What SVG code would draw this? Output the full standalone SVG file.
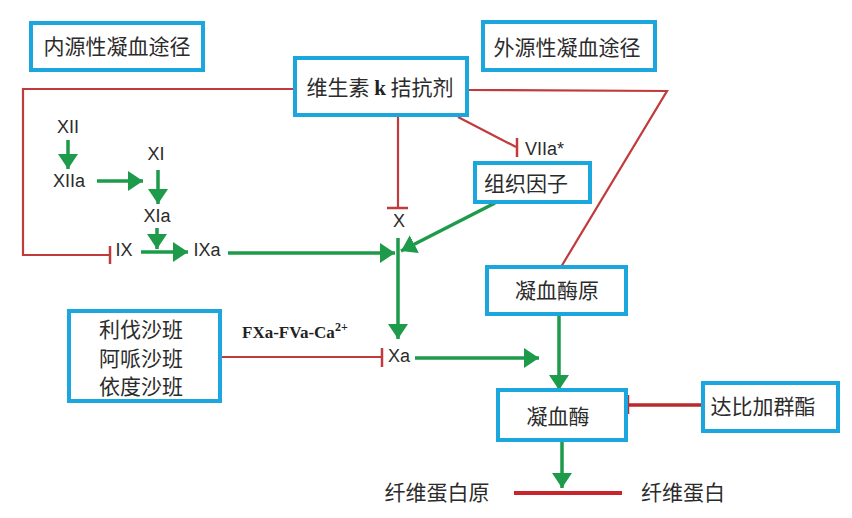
<svg xmlns="http://www.w3.org/2000/svg" width="852" height="518" viewBox="0 0 852 518">
<style>
.box{fill:#fff;stroke:#1ba6de;stroke-width:4}
.cjk{font-family:"Noto Sans CJK SC","Noto Sans",sans-serif;font-size:21px;fill:#2b2b2b;text-anchor:middle}
.lat{font-family:"Liberation Sans",Arial,sans-serif;font-size:18px;fill:#2b2b2b}
.g{stroke:#1d9a4a;stroke-width:3.5;fill:none;marker-end:url(#ah)}
.r{stroke:#c13a3c;stroke-width:2.2;fill:none}
.rt{stroke:#c13a3c;stroke-width:2.5;fill:none}
</style>
<defs>
<marker id="ah" viewBox="0 0 15 20" refX="15" refY="10" markerWidth="15" markerHeight="20" markerUnits="userSpaceOnUse" orient="auto">
<path d="M0,0 L15,10 L0,20 Z" fill="#1d9a4a"/>
</marker>
</defs>
<rect width="852" height="518" fill="#fff"/>

<g id="connectors">
<!-- red inhibitor lines -->
<polyline class="r" points="295,89 23,89 23,255 110,255"/>
<line class="rt" x1="110" y1="246" x2="110" y2="264"/>
<polyline class="r" points="467,90 667,91 561,267"/>
<line class="r" x1="398" y1="115" x2="398" y2="208"/>
<line class="rt" x1="387" y1="208" x2="408" y2="208"/>
<line class="r" x1="458" y1="117" x2="516" y2="147"/>
<line class="rt" x1="517" y1="138" x2="517" y2="157"/>
<line class="r" x1="220" y1="357" x2="381" y2="357"/>
<line class="rt" x1="382" y1="348" x2="382" y2="367"/>
<line stroke="#b82a2e" stroke-width="3.5" x1="703" y1="405" x2="629" y2="405"/>
<line stroke="#b82a2e" stroke-width="2.5" x1="628" y1="395" x2="628" y2="414"/>
<line stroke="#c8242b" stroke-width="4" x1="514" y1="493" x2="622" y2="493"/>
<!-- green arrows -->
<line class="g" x1="68" y1="140" x2="68" y2="169"/>
<line class="g" x1="97" y1="181" x2="143" y2="181"/>
<line class="g" x1="158" y1="170" x2="158" y2="204"/>
<line class="g" x1="157" y1="228" x2="157" y2="249"/>
<line class="g" x1="141" y1="252" x2="188" y2="252"/>
<line class="g" x1="228" y1="253" x2="395" y2="253"/>
<line class="g" x1="398" y1="238" x2="398" y2="339"/>
<line class="g" x1="495" y1="203" x2="401" y2="251"/>
<line class="g" x1="415" y1="358" x2="539" y2="358"/>
<line class="g" x1="559" y1="314" x2="559" y2="390"/>
<line class="g" x1="562" y1="440" x2="562" y2="488"/>
</g>

<g id="intrinsic">
<rect class="box" x="31" y="23" width="172" height="47"/>
<text class="cjk" x="117" y="54">内源性凝血途径</text>
</g>
<g id="extrinsic">
<rect class="box" x="483" y="22" width="172" height="48"/>
<text class="cjk" x="567" y="55">外源性凝血途径</text>
</g>
<g id="vitk">
<rect class="box" x="295" y="58" width="172" height="57"/>
<text class="cjk" x="380" y="95">维生素 <tspan font-family="'Liberation Serif',serif" font-weight="bold" fill="#222">k</tspan> 拮抗剂</text>
</g>
<g id="tissue-factor">
<rect class="box" x="475" y="163" width="115" height="39"/>
<text class="cjk" x="526" y="191">组织因子</text>
</g>
<g id="prothrombin">
<rect class="box" x="487" y="267" width="139" height="47"/>
<text class="cjk" x="557" y="298">凝血酶原</text>
</g>
<g id="thrombin">
<rect class="box" x="498" y="390" width="128" height="50"/>
<text class="cjk" x="558" y="424">凝血酶</text>
</g>
<g id="dabigatran">
<rect class="box" x="703" y="383" width="135" height="48"/>
<text class="cjk" x="763" y="414">达比加群酯</text>
</g>
<g id="xabans">
<rect class="box" x="69" y="311" width="151" height="90"/>
<text class="cjk" x="141" y="337">利伐沙班</text>
<text class="cjk" x="141" y="366">阿哌沙班</text>
<text class="cjk" x="141" y="394">依度沙班</text>
</g>
<g id="fibrinogen">
<text class="cjk" x="437" y="500">纤维蛋白原</text>
</g>
<g id="fibrin">
<text class="cjk" x="683" y="500">纤维蛋白</text>
</g>
<g id="factors">
<text class="lat" x="68" y="133" text-anchor="middle">XII</text>
<text class="lat" x="69" y="187" text-anchor="middle">XIIa</text>
<text class="lat" x="156" y="160" text-anchor="middle">XI</text>
<text class="lat" x="157" y="222" text-anchor="middle">XIa</text>
<text class="lat" x="124" y="256" text-anchor="middle">IX</text>
<text class="lat" x="207" y="256" text-anchor="middle">IXa</text>
<text class="lat" x="399" y="227" text-anchor="middle">X</text>
<text class="lat" x="388" y="362">Xa</text>
<text class="lat" x="525" y="155">VIIa*</text>
<text font-family="'Liberation Serif',serif" font-weight="bold" font-size="17" fill="#222" x="242" y="338">FXa-FVa-Ca<tspan font-size="12" dy="-7">2+</tspan></text>
</g>
</svg>
